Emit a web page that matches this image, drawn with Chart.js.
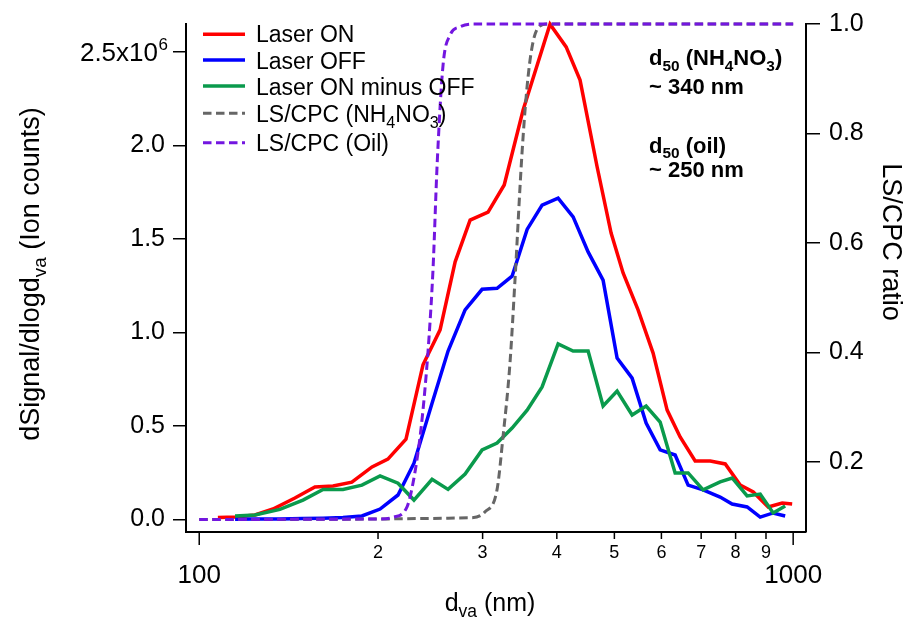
<!DOCTYPE html>
<html><head><meta charset="utf-8">
<script src="https://cdn.jsdelivr.net/npm/chart.js@4.4.1/dist/chart.umd.min.js"></script>
<style>html,body{margin:0;padding:0;background:#fff}canvas{display:block}</style>
</head><body>
<canvas id="c" width="916" height="619"></canvas>
<script>
// ---- data ----
// Laser ON (red), its own size bins (nm), values in units of 1e6 ion counts
const dvaOn = [107.5,115.3,124.1,133.1,144.9,156.6,168.0,180.7,195.4,207.8,222.9,238.1,254.4,269.7,285.8,306.4,326.2,351.0,389.6,414.7,437.7,467.7,493.7,517.2,548.3,581.0,613.5,645.2,683.9,725.1,768.5,814.4,856.7,907.8,958.4,996.1];
const laserOn = [0.009,0.012,0.023,0.055,0.114,0.173,0.178,0.199,0.280,0.322,0.429,0.826,1.013,1.377,1.600,1.643,1.788,2.189,2.648,2.526,2.349,1.884,1.531,1.317,1.119,0.889,0.584,0.440,0.312,0.312,0.296,0.183,0.146,0.066,0.087,0.082];
// Laser OFF (blue) and ON minus OFF (green) share these bins (nm)
const dvaOff = [114.9,124.1,136.7,149.5,161.6,174.6,187.9,201.6,216.1,229.9,246.6,262.4,280.3,299.4,317.3,336.3,356.5,377.8,402.0,426.1,451.6,478.6,505.3,535.6,565.5,597.1,632.8,665.5,705.3,753.4,789.3,836.5,880.0,925.4,969.5];
const laserOff = [0.000,0.001,0.002,0.004,0.006,0.010,0.018,0.055,0.130,0.300,0.620,0.900,1.120,1.230,1.235,1.300,1.550,1.680,1.718,1.617,1.430,1.279,0.862,0.755,0.515,0.371,0.344,0.183,0.157,0.119,0.082,0.066,0.012,0.034,0.018];
const onMinusOff = [0.018,0.023,0.053,0.103,0.160,0.160,0.183,0.232,0.193,0.103,0.214,0.160,0.242,0.371,0.408,0.488,0.584,0.708,0.938,0.900,0.900,0.606,0.686,0.558,0.606,0.520,0.248,0.248,0.157,0.200,0.221,0.125,0.135,0.034,0.071];
// LS/CPC transmission curves (right axis)
const dvaNH4 = [100,285.8,302.9,317.2,324.7,333.6,340.1,349.5,356.4,363.4,371.9,385.1,1000];
const lsNH4 = [0.095,0.098,0.109,0.149,0.246,0.381,0.532,0.764,0.885,0.958,0.993,1.0,1.0];
const dvaOil = [100,201.6,212.0,223.8,229.1,235.4,240.0,243.8,247.6,251.5,257.4,264.5,274.9,289.1,1000];
const lsOil = [0.095,0.096,0.099,0.118,0.162,0.246,0.335,0.430,0.555,0.743,0.926,0.980,0.995,1.0,1.0];
// ticks
const xTicks = [100,200,300,400,500,600,700,800,900,1000];
const xTickLabels = ['100','2','3','4','5','6','7','8','9','1000'];
const yTicks = [0,0.5,1.0,1.5,2.0,2.5];
const yTickLabels = ['0.0','0.5','1.0','1.5','2.0',''];
const y2Ticks = [0.2,0.4,0.6,0.8,1.0];
const y2TickLabels = ['0.2','0.4','0.6','0.8','1.0'];

const FAM = '"Liberation Sans", Arial, Helvetica, sans-serif';
const fnt = (s, b) => (b ? 'bold ' : '') + s + 'px ' + FAM;
const RED = '#ff0000', BLUE = '#0000ff', GREEN = '#0a9a4c', GRAY = '#666666', PURPLE = '#7316e0';
const DASH = [8.5, 4.5];

function drawRich(ctx, parts, x, y, size, bold, align) {
  let w = 0;
  for (const [t, m] of parts) { ctx.font = fnt(m ? size * 0.7 : size, bold); w += ctx.measureText(t).width; }
  let cx = align === 'center' ? x - w / 2 : align === 'right' ? x - w : x;
  ctx.textAlign = 'left'; ctx.textBaseline = 'alphabetic';
  for (const [t, m] of parts) {
    const s = m ? size * 0.7 : size;
    ctx.font = fnt(s, bold);
    const dy = m === 1 ? size * 0.25 : m === 2 ? -size * 0.45 : 0;
    ctx.fillText(t, cx, y + dy);
    cx += ctx.measureText(t).width;
  }
}

const legendRows = [
  { parts: [['Laser ON', 0]], color: RED, dash: [], y: 34.3, base: 42 },
  { parts: [['Laser OFF', 0]], color: BLUE, dash: [], y: 60, base: 68.5 },
  { parts: [['Laser ON minus OFF', 0]], color: GREEN, dash: [], y: 86, base: 95 },
  { parts: [['LS/CPC (NH', 0], ['4', 1], ['NO', 0], ['3', 1], [')', 0]], color: GRAY, dash: DASH, y: 113.3, base: 122 },
  { parts: [['LS/CPC (Oil)', 0]], color: PURPLE, dash: DASH, y: 142.7, base: 150.5 }
];

const deco = {
  id: 'deco',
  beforeDraw(chart) {
    const c = chart.ctx; c.save(); c.fillStyle = '#fff'; c.fillRect(0, 0, chart.width, chart.height); c.restore();
  },
  afterDraw(chart) {
    const ctx = chart.ctx, xs = chart.scales.x, ys = chart.scales.y;
    const bot = chart.chartArea.bottom;
    ctx.save();
    ctx.fillStyle = '#000'; ctx.strokeStyle = '#000'; ctx.lineWidth = 1.5;
    // x tick marks and labels
    xTicks.forEach((v, i) => {
      const px = xs.getPixelForValue(v);
      const major = (v === 100 || v === 1000);
      ctx.beginPath(); ctx.moveTo(px, bot); ctx.lineTo(px, bot + (major ? 13 : 7)); ctx.stroke();
      ctx.textAlign = 'center'; ctx.textBaseline = 'alphabetic';
      if (major) { ctx.font = fnt(26); ctx.fillText(xTickLabels[i], px, bot + 51); }
      else { ctx.font = fnt(18); ctx.fillText(xTickLabels[i], px, bot + 26); }
    });
    // top y tick label with exponent
    const py = ys.getPixelForValue(2.5);
    ctx.font = fnt(26); ctx.textAlign = 'right'; ctx.textBaseline = 'alphabetic';
    ctx.fillText('2.5x10', 158, py + 9.3);
    ctx.font = fnt(17); ctx.textAlign = 'left';
    ctx.fillText('6', 158.5, py - 1.5);
    // axis titles
    drawRich(ctx, [['d', 0], ['va', 1], [' (nm)', 0]], 490, 611, 25, false, 'center');
    ctx.save(); ctx.translate(39, 274); ctx.rotate(-Math.PI / 2);
    drawRich(ctx, [['dSignal/dlogd', 0], ['va', 1], [' (Ion counts)', 0]], 0, 0, 27, false, 'center');
    ctx.restore();
    ctx.save(); ctx.translate(883, 242); ctx.rotate(Math.PI / 2);
    drawRich(ctx, [['LS/CPC ratio', 0]], 0, 0, 27, false, 'center');
    ctx.restore();
    // annotations
    drawRich(ctx, [['d', 0], ['50', 1], [' (NH', 0], ['4', 1], ['NO', 0], ['3', 1], [')', 0]], 649, 65, 22, true, 'left');
    drawRich(ctx, [['~ 340 nm', 0]], 649, 94.3, 22, true, 'left');
    drawRich(ctx, [['d', 0], ['50', 1], [' (oil)', 0]], 649, 152.5, 22, true, 'left');
    drawRich(ctx, [['~ 250 nm', 0]], 649, 177, 22, true, 'left');
    // legend
    legendRows.forEach(r => {
      ctx.save();
      ctx.strokeStyle = r.color; ctx.lineWidth = r.dash.length ? 3 : 3.5; ctx.setLineDash(r.dash);
      ctx.beginPath(); ctx.moveTo(203, r.y); ctx.lineTo(245, r.y); ctx.stroke();
      ctx.restore();
      ctx.fillStyle = '#000';
      drawRich(ctx, r.parts, 256, r.base, 23, false, 'left');
    });
    ctx.restore();
  }
};

const pts = (xs, ys) => xs.map((x, i) => ({ x: x, y: ys[i] }));
const common = { pointRadius: 0, fill: false, tension: 0, clip: 8 };

new Chart(document.getElementById('c'), {
  type: 'line',
  data: {
    datasets: [
      Object.assign({ label: 'LS/CPC (Oil)', data: pts(dvaOil, lsOil), yAxisID: 'y1', borderColor: PURPLE, borderDash: DASH, borderWidth: 3, cubicInterpolationMode: 'monotone', order: 0 }, common),
      Object.assign({ label: 'LS/CPC (NH4NO3)', data: pts(dvaNH4, lsNH4), yAxisID: 'y1', borderColor: GRAY, borderDash: DASH, borderWidth: 3, cubicInterpolationMode: 'monotone', order: 1 }, common),
      Object.assign({ label: 'Laser ON minus OFF', data: pts(dvaOff, onMinusOff), yAxisID: 'y', borderColor: GREEN, borderWidth: 3.5, order: 2 }, common),
      Object.assign({ label: 'Laser OFF', data: pts(dvaOff, laserOff), yAxisID: 'y', borderColor: BLUE, borderWidth: 3.5, order: 3 }, common),
      Object.assign({ label: 'Laser ON', data: pts(dvaOn, laserOn), yAxisID: 'y', borderColor: RED, borderWidth: 3.5, order: 4 }, common)
    ]
  },
  options: {
    responsive: false, animation: false, devicePixelRatio: 1,
    layout: { padding: { top: 24, left: 0, right: 0, bottom: 0 } },
    plugins: { legend: { display: false }, tooltip: { enabled: false } },
    scales: {
      x: {
        type: 'logarithmic', position: 'bottom', min: 95.0, max: 1051,
        afterBuildTicks: s => { s.ticks = xTicks.map(v => ({ value: v })); },
        afterFit: s => { s.height = 87; },
        grid: { display: true, drawOnChartArea: false, drawTicks: false, color: '#000', lineWidth: 0 },
        border: { display: true, color: '#000', width: 2 },
        ticks: { display: false }
      },
      y: {
        type: 'linear', position: 'left', min: -0.0679, max: 2.6487,
        afterBuildTicks: s => { s.ticks = yTicks.map(v => ({ value: v })); },
        afterFit: s => { s.width = 186; },
        grid: { drawOnChartArea: false, drawTicks: true, tickLength: 13, color: '#000', lineWidth: 1.5 },
        border: { display: true, color: '#000', width: 2 },
        ticks: { color: '#000', font: { family: FAM, size: 25 }, padding: 8, callback: (v, i) => yTickLabels[i] }
      },
      y1: {
        type: 'linear', position: 'right', min: 0.0721, max: 1.0,
        afterBuildTicks: s => { s.ticks = y2Ticks.map(v => ({ value: v })); },
        afterFit: s => { s.width = 110; },
        grid: { drawOnChartArea: false, drawTicks: true, tickLength: 14, color: '#000', lineWidth: 1.5 },
        border: { display: true, color: '#000', width: 2 },
        ticks: { color: '#000', font: { family: FAM, size: 25 }, padding: 9, callback: (v, i) => y2TickLabels[i] }
      }
    }
  },
  plugins: [deco]
});
</script>
</body></html>
